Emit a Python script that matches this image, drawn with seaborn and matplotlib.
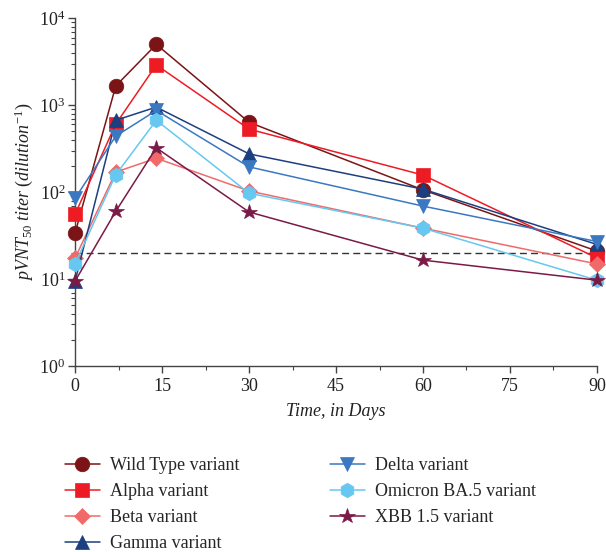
import numpy as np
import pandas as pd
import matplotlib
matplotlib.use("Agg")
import matplotlib.pyplot as plt
import seaborn as sns
from matplotlib.ticker import LogLocator, MultipleLocator, NullFormatter

days = [0, 7, 14, 30, 60, 90]
wild_type = [34, 1660, 5000, 635, 106, 21]
alpha = [56, 605, 2900, 530, 157, 17.5]
beta = [17.5, 170, 245, 103, 38.5, 14.9]
gamma = [9.5, 670, 950, 275, 108, 25]
delta = [85, 440, 870, 195, 69, 27]
omicron = [15, 158, 670, 97, 38.5, 9.7]
xbb = [9.5, 60, 323, 59, 16.5, 9.7]
cutoff = 20

labels = ["Wild Type variant", "Alpha variant", "Beta variant", "Gamma variant",
          "Delta variant", "Omicron BA.5 variant", "XBB 1.5 variant"]
series = [wild_type, alpha, beta, gamma, delta, omicron, xbb]
colors = ["#7b1416", "#ed1c24", "#f06a6a", "#1c3f80", "#3a78c2", "#66c8f0", "#7a1a47"]
markers = ["o", "s", "D", "^", "v", "h", "*"]
msizes = [10.5, 10.5, 8.5, 10.5, 10.5, 10.5, 11.5]

sns.set_style("ticks")
plt.rcParams["font.family"] = ["Liberation Serif", "DejaVu Serif"]
plt.rcParams["mathtext.fontset"] = "custom"
plt.rcParams["mathtext.rm"] = "Liberation Serif"
plt.rcParams["mathtext.it"] = "Liberation Serif:italic"

fig = plt.figure(figsize=(6.06, 5.52), dpi=100)
ax = fig.add_axes([0.124, 0.337, 0.861, 0.630])

for lab, vals, col, mk, ms in zip(labels, series, colors, markers, msizes):
    sns.lineplot(x=days, y=vals, ax=ax, color=col, marker=mk, markersize=ms,
                 markeredgecolor=col, markeredgewidth=0.5, linewidth=1.1,
                 label=lab, clip_on=False, zorder=3)

ax.axhline(cutoff, color="#333333", linestyle=(0, (5, 3)), linewidth=1.0, zorder=2)

ax.set_yscale("log")
ax.set_ylim(1, 1e4)
ax.set_xlim(0, 90)
ax.xaxis.set_major_locator(MultipleLocator(15))
ax.xaxis.set_minor_locator(MultipleLocator(7.5))
ax.yaxis.set_major_locator(LogLocator(base=10))
ax.yaxis.set_minor_locator(LogLocator(base=10, subs=np.arange(2, 10)))
ax.yaxis.set_minor_formatter(NullFormatter())

for s in ["top", "right"]:
    ax.spines[s].set_visible(False)
for s in ["left", "bottom"]:
    ax.spines[s].set_color("#444444")
    ax.spines[s].set_linewidth(1.0)
ax.tick_params(which="major", length=5, width=1, color="#444444", labelsize=13, labelcolor="#222222")
ax.tick_params(which="minor", length=3, width=0.8, color="#444444")
ax.tick_params(axis="y", which="major", pad=2)

ax.set_xlabel("Time, in Days", fontsize=13, fontstyle="italic", color="#222222", labelpad=6)
ax.set_ylabel(r"$pVNT_{50}\ titer\ (dilution^{-1})$", fontsize=13, color="#222222", labelpad=3)

handles, labs = ax.get_legend_handles_labels()
ax.legend(handles, labs, ncol=2, loc="upper left", bbox_to_anchor=(-0.05, -0.215),
          frameon=False, fontsize=13, handlelength=1.9, columnspacing=5.0,
          labelspacing=0.5, handletextpad=0.6)

fig.savefig("out.png", dpi=100)
